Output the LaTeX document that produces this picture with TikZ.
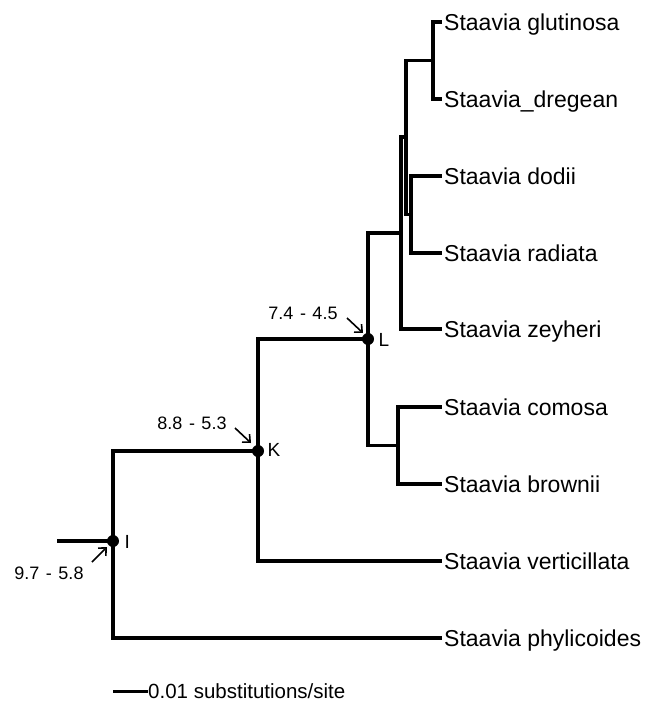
\documentclass[tikz,border=0pt]{standalone}
\usepackage{fontspec}
\setmainfont{Liberation Sans}
\usetikzlibrary{arrows.meta}
% dash between the two ends of an age range, with wide gaps
\newcommand\rangedash{\hspace{6.5pt}-\hspace{6.5pt}}

\begin{document}
\begin{tikzpicture}[x=1pt,y=-1pt,
  branch/.style={line width=3.2pt, line join=miter},
  leaf/.style={anchor=west, inner sep=0pt, font=\fontsize{23}{23}\selectfont,
    text height=16.5pt, text depth=0pt},
  tag/.style={anchor=west, inner sep=0pt, font=\fontsize{19}{19}\selectfont},
  agerange/.style={inner sep=0pt, font=\fontsize{18}{18}\selectfont},
  pointer/.style={-{Straight Barb[length=6pt,width=11pt]}, line width=1.6pt},
  barlabel/.style={anchor=west, inner sep=0pt, font=\fontsize{20.5}{20.5}\selectfont,
    text height=14.7pt, text depth=0pt},
  dot/.style={fill=black}]
\useasboundingbox (0,0) rectangle (656,703);

% internal nodes of the tree
\coordinate (root) at (57,541);
\coordinate (I)  at (113,541);
\coordinate (K)  at (258,451);
\coordinate (L)  at (368,339);
\coordinate (n4) at (401,233);
\coordinate (n3) at (406,137);
\coordinate (n1) at (433,60.5);
\coordinate (n2) at (411,214.5);
\coordinate (n5) at (398,445.5);

% tip labels
\node[leaf] (glut)  at (444,22)  {Staavia glutinosa};
\node[leaf] (dreg)  at (444,99)  {Staavia\_dregean};
\node[leaf] (dodi)  at (444,176) {Staavia dodii};
\node[leaf] (radi)  at (444,253) {Staavia radiata};
\node[leaf] (zeyh)  at (444,329) {Staavia zeyheri};
\node[leaf] (como)  at (444,407) {Staavia comosa};
\node[leaf] (brow)  at (444,484) {Staavia brownii};
\node[leaf] (vert)  at (444,561) {Staavia verticillata};
\node[leaf] (phyl)  at (444,638) {Staavia phylicoides};

% branches
\begin{scope}[branch, shorten >=2pt]
  \draw (I)  |- (phyl.west);
  \draw (K)  |- (vert.west);
  \draw (n4) |- (zeyh.west);
  \draw (n1) |- (glut.west);
  \draw (n1) |- (dreg.west);
  \draw (n2) |- (dodi.west);
  \draw (n2) |- (radi.west);
  \draw (n5) |- (como.west);
  \draw (n5) |- (brow.west);
\end{scope}
\begin{scope}[branch]
  \draw (root) -- (I);
  \draw (I)  |- (K);
  \draw (K)  |- (L);
  \draw (L)  |- (n4);
  \draw (L)  |- (n5);
  \draw (n4) |- (n3);
  \draw (n3) |- (n1);
  \draw (n3) |- (n2);
\end{scope}

% dated nodes
\fill[dot] (I) circle (6pt);
\fill[dot] (K) circle (6pt);
\fill[dot] (L) circle (6pt);
\node[tag] (Ilab) at (124.5,542) {I};
\node[tag] (Klab) at (267.5,450) {K};
\node[tag] (Llab) at (378.5,340) {L};

% age ranges with pointers
\node[agerange] (dI) at (49,573)  {9.7\rangedash 5.8};
\node[agerange] (dK) at (192,423) {8.8\rangedash 5.3};
\node[agerange] (dL) at (303,313) {7.4\rangedash 4.5};
\coordinate (pI0) at (92,562);   \coordinate (pI1) at (107,547);
\coordinate (pK0) at (235,428);  \coordinate (pK1) at (251,443);
\coordinate (pL0) at (347,318);  \coordinate (pL1) at (363,333);
\draw[pointer] (pI0) -- (pI1);
\draw[pointer] (pK0) -- (pK1);
\draw[pointer] (pL0) -- (pL1);

% scale bar
\coordinate (s0) at (113,691.5);
\node[barlabel] (slab) at (148,691.5) {0.01 substitutions/site};
\draw[branch] (s0) -- (slab.west);
\end{tikzpicture}
\end{document}
